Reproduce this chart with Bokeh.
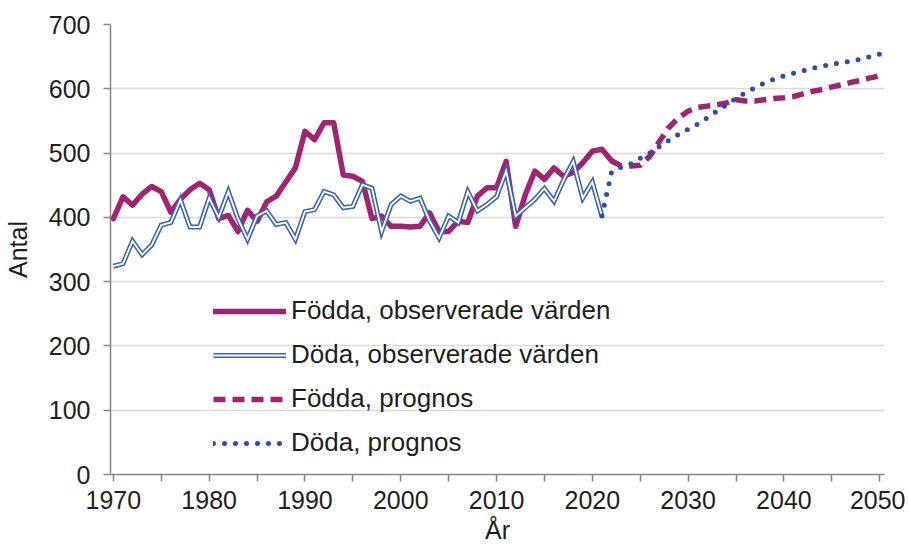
from bokeh.plotting import figure
from bokeh.models import Legend, LegendItem, FixedTicker, Range1d
from bokeh.embed import file_html
from bokeh.resources import INLINE

# ---------------- data ----------------
years_fodda_obs = list(range(1970, 2023))
fodda_obs = [398, 432, 419, 436, 448, 440, 408, 428, 443, 453,
             443, 398, 403, 378, 411, 394, 424, 433, 455, 477,
             534, 521, 547, 547, 466, 464, 456, 398, 402, 386,
             386, 385, 386, 407, 378, 378, 394, 392, 433, 446,
             446, 487, 386, 435, 472, 459, 477, 464, 470, 485,
             503, 506, 488]

years_doda_obs = list(range(1970, 2022))
doda_obs = [324, 328, 363, 342, 357, 388, 392, 427, 385, 385,
            430, 400, 440, 398, 366, 402, 410, 389, 392, 366,
            409, 412, 440, 435, 415, 417, 451, 445, 378, 420,
            433, 425, 430, 395, 368, 402, 392, 440, 410, 420,
            432, 472, 402, 415, 428, 445, 425, 458, 487, 430,
            455, 402]

years_fodda_prog = list(range(2022, 2051))
fodda_prog = [488, 480, 480, 481, 495, 518, 540, 555, 565, 571,
              573, 575, 578, 583, 581, 581, 583, 585, 586, 588,
              592, 596, 599, 603, 606, 610, 613, 617, 620]

years_doda_prog = list(range(2021, 2051))
doda_prog = [402, 470, 478, 483, 492, 500, 510, 520, 529, 537,
             545, 555, 565, 575, 585, 594, 602, 609, 615, 620,
             624, 628, 632, 635, 638, 641, 643, 646, 650, 654]

x_ticks = [1970, 1980, 1990, 2000, 2010, 2020, 2030, 2040, 2050]
x_minor_ticks = [1975, 1985, 1995, 2005, 2015, 2025, 2035, 2045]
y_ticks = [0, 100, 200, 300, 400, 500, 600, 700]

series_labels = ["Födda, observerade värden", "Döda, observerade värden",
                 "Födda, prognos", "Döda, prognos"]
x_label = "År"
y_label = "Antal"

# ---------------- styles ----------------
MAG = "#A0246F"
BLUE = "#3A63B8"
DOT = "#2D4BAE"
FONT = "Liberation Sans"
TXT = "#1e1e1e"
AXIS = "#868686"

p = figure(width=905, height=552, output_backend="svg", toolbar_location=None,
           x_range=Range1d(1969.7, 2050.5), y_range=Range1d(0, 700),
           min_border_left=110, min_border_right=21, min_border_top=24,
           min_border_bottom=78)
p.outline_line_color = None
p.background_fill_color = "white"
p.border_fill_color = "white"

p.xgrid.grid_line_color = None
p.ygrid.grid_line_color = "#d9d9d9"
p.ygrid.grid_line_width = 1.5

p.xaxis.ticker = FixedTicker(ticks=x_ticks, minor_ticks=x_minor_ticks)
p.yaxis.ticker = FixedTicker(ticks=y_ticks, minor_ticks=[])

for ax in (p.xaxis, p.yaxis):
    ax.axis_line_color = AXIS
    ax.axis_line_width = 1.5
    ax.major_tick_line_color = AXIS
    ax.major_tick_line_width = 1.5
    ax.minor_tick_line_color = AXIS
    ax.minor_tick_line_width = 1.5
    ax.major_tick_in = 0
    ax.minor_tick_in = 0
    ax.major_label_text_font = FONT
    ax.major_label_text_font_size = "25px"
    ax.major_label_text_color = TXT
    ax.axis_label_text_font = FONT
    ax.axis_label_text_font_size = "25px"
    ax.axis_label_text_font_style = "normal"
    ax.axis_label_text_color = TXT

p.xaxis.major_tick_out = 7
p.xaxis.minor_tick_out = 7
p.xaxis.major_label_standoff = 9
p.xaxis.axis_label = x_label
p.xaxis.axis_label_standoff = 4

p.yaxis.major_tick_out = 7
p.yaxis.minor_tick_out = 0
p.yaxis.major_label_standoff = 13
p.yaxis.axis_label = y_label
p.yaxis.axis_label_standoff = 14

r1 = p.line(years_fodda_obs, fodda_obs, line_color=MAG, line_width=5.5,
            line_join="round", line_cap="round")
r2a = p.line(years_doda_obs, doda_obs, line_color=BLUE, line_width=5,
             line_join="miter")
r2b = p.line(years_doda_obs, doda_obs, line_color="white", line_width=1.8,
             line_join="miter")
r3 = p.line(years_fodda_prog, fodda_prog, line_color=MAG, line_width=5.5,
            line_dash="12 7")
r4 = p.line(years_doda_prog, doda_prog, line_color=DOT, line_width=5,
            line_dash="0 11", line_cap="round")

legend = Legend(items=[
    LegendItem(label=series_labels[0], renderers=[r1]),
    LegendItem(label=series_labels[1], renderers=[r2a, r2b]),
    LegendItem(label=series_labels[2], renderers=[r3]),
    LegendItem(label=series_labels[3], renderers=[r4]),
], location=(103, 16))
legend.background_fill_alpha = 0
legend.border_line_alpha = 0
legend.padding = 0
legend.margin = 0
legend.spacing = 13
legend.glyph_width = 73
legend.glyph_height = 20
legend.label_standoff = 5
legend.label_text_font = FONT
legend.label_text_font_size = "26px"
legend.label_text_color = TXT
p.add_layout(legend)

open("out.html", "w").write(file_html(p, INLINE))
